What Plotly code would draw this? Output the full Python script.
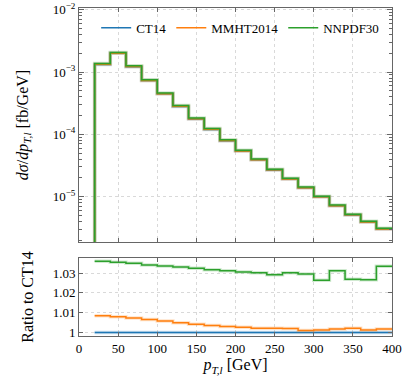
import numpy as np
import plotly.graph_objects as go

# bin edges in p_T,l [GeV]
edges = [20, 40, 60, 80, 100, 120, 140, 160, 180, 200, 220, 240, 260, 280, 300, 320, 340, 360, 380, 400]

# CT14 cross section per bin [fb/GeV]
ct14 = [1.33e-3, 2.0e-3, 1.22e-3, 7.3e-4, 4.48e-4, 2.8e-4, 1.77e-4, 1.2e-4, 7.9e-5, 5.4e-5,
        3.9e-5, 2.68e-5, 1.92e-5, 1.39e-5, 9.9e-6, 7.1e-6, 5.07e-6, 3.9e-6, 3.0e-6]

# ratios to CT14
ratio_mmht = [1.0085, 1.0080, 1.0073, 1.0066, 1.0058, 1.0049, 1.0042, 1.0036, 1.0031, 1.0027,
              1.0022, 1.0022, 1.0021, 1.0011, 1.0013, 1.0018, 1.0022, 1.0013, 1.0018]
ratio_nnpdf = [1.0359, 1.0354, 1.0349, 1.0341, 1.0336, 1.0331, 1.0324, 1.0317, 1.0312, 1.0305,
               1.0302, 1.0292, 1.0302, 1.0295, 1.0264, 1.0312, 1.0269, 1.0266, 1.0334]
ratio_ct14 = [1.0] * len(ct14)

names = ["CT14", "MMHT2014", "NNPDF30"]
colors = ["#1f77b4", "#ff7f0e", "#2ca02c"]
halo = ["rgba(31,119,180,0.22)", "rgba(255,127,14,0.22)", "rgba(44,160,44,0.22)"]

ratios = [ratio_ct14, ratio_mmht, ratio_nnpdf]
xsec = [ct14, [c * r for c, r in zip(ct14, ratio_mmht)], [c * r for c, r in zip(ct14, ratio_nnpdf)]]

FONT = "Liberation Serif"
floor = 1e-9  # histogram drops to zero below the first bin

fig = go.Figure()

for i in range(3):
    # top panel: step histogram
    xs = [edges[0]] + edges
    ys = [floor] + xsec[i] + [xsec[i][-1]]
    fig.add_trace(go.Scatter(x=xs, y=ys, mode="lines", line=dict(color=halo[i], width=3.5, shape="hv"),
                             showlegend=False, hoverinfo="skip", xaxis="x", yaxis="y"))
    fig.add_trace(go.Scatter(x=xs, y=ys, mode="lines", line=dict(color=colors[i], width=1.5, shape="hv"),
                             name=names[i], xaxis="x", yaxis="y"))
    # bottom panel: ratio
    xr = edges
    yr = ratios[i] + [ratios[i][-1]]
    fig.add_trace(go.Scatter(x=xr, y=yr, mode="lines", line=dict(color=halo[i], width=3.5, shape="hv"),
                             showlegend=False, hoverinfo="skip", xaxis="x2", yaxis="y2"))
    fig.add_trace(go.Scatter(x=xr, y=yr, mode="lines", line=dict(color=colors[i], width=1.5, shape="hv"),
                             showlegend=False, xaxis="x2", yaxis="y2"))

frame = "#666666"
grid = dict(showgrid=True, gridcolor="#d9d9d9", griddash="dot", gridwidth=1)
common_x = dict(range=[0, 400], tickvals=list(range(0, 401, 50)), ticks="inside", ticklen=4,
                tickcolor=frame, showline=True, linecolor=frame, linewidth=1, mirror="ticks",
                zeroline=False, automargin=False, **grid)

minor_vals = [m * 10.0 ** e for e in range(-6, -1) for m in range(2, 10)]

fig.update_layout(
    width=407, height=383,
    margin=dict(l=79, r=15, t=8, b=47),
    paper_bgcolor="white", plot_bgcolor="white",
    font=dict(family=FONT, size=13, color="black"),
    xaxis=dict(domain=[0, 1], anchor="y", showticklabels=False, **common_x),
    yaxis=dict(domain=[0.2866, 1], type="log", range=[-5.73, -1.97],
               tickvals=[1e-5, 1e-4, 1e-3, 1e-2],
               ticktext=["10<sup>−5</sup>", "10<sup>−4</sup>", "10<sup>−3</sup>", "10<sup>−2</sup>"],
               ticks="inside", ticklen=5, tickcolor=frame, showline=True, linecolor=frame,
               linewidth=1, mirror="ticks", zeroline=False, automargin=False,
               minor=dict(tickvals=minor_vals, ticks="inside", ticklen=3, tickcolor=frame, showgrid=False),
               title=dict(text="<i>dσ</i>/<i>dp</i><sub><i>T,l</i></sub> [fb/GeV]", standoff=20),
               **grid),
    xaxis2=dict(domain=[0, 1], anchor="y2", matches="x",
                title=dict(text="<i>p</i><sub><i>T,l</i></sub> [GeV]", standoff=4), **common_x),
    yaxis2=dict(domain=[0, 0.2378], range=[0.99827, 1.0376],
                tickvals=[1.0, 1.01, 1.02, 1.03], ticktext=["1", "1.01", "1.02", "1.03"],
                ticks="inside", ticklen=4, tickcolor=frame, showline=True, linecolor=frame,
                linewidth=1, mirror="ticks", zeroline=False, automargin=False,
                title=dict(text="Ratio to CT14", standoff=15), **grid),
    legend=dict(orientation="h", x=0.975, xanchor="right", y=0.985, yanchor="top",
                bgcolor="rgba(255,255,255,0)", font=dict(size=13), itemwidth=30,
                tracegroupgap=0),
)

# drop the browser's default body margin so the figure sits at the page origin
fig.write_html("out.html", config={"displayModeBar": False},
               post_script="document.body.style.margin='0';")
